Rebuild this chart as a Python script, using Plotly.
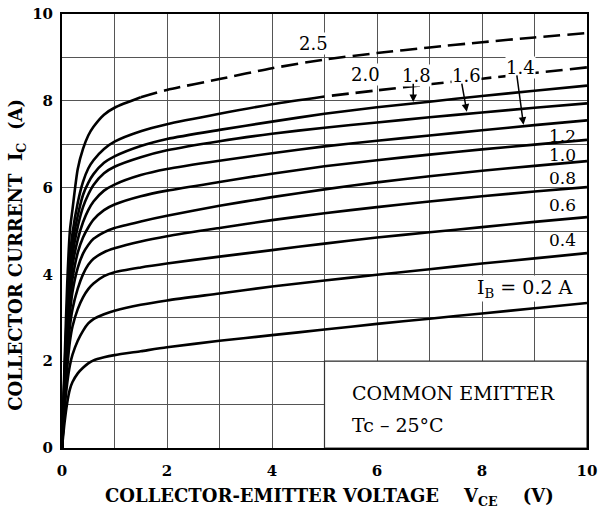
import plotly.graph_objects as go

# ---------------- data ----------------
vce = [0, 0.05, 0.1, 0.15, 0.2, 0.3, 0.4, 0.5, 0.6, 0.8, 1.0, 1.5, 2, 3, 4, 5, 6, 7, 8, 9, 10]

ib_values = ["0.2", "0.4", "0.6", "0.8", "1.0", "1.2", "1.4", "1.6", "1.8", "2.0", "2.5"]

ic_02 = [0, 0.6, 1.05, 1.35, 1.52, 1.72, 1.85, 1.95, 2.02, 2.09, 2.14, 2.23, 2.32, 2.47, 2.6, 2.73, 2.86, 2.98, 3.1, 3.22, 3.34]
ic_04 = [0, 0.9, 1.5, 1.9, 2.15, 2.47, 2.7, 2.87, 2.97, 3.08, 3.16, 3.3, 3.4, 3.56, 3.72, 3.86, 3.99, 4.12, 4.25, 4.37, 4.49]
ic_06 = [0, 1.05, 1.85, 2.45, 2.8, 3.2, 3.47, 3.66, 3.79, 3.96, 4.05, 4.16, 4.25, 4.41, 4.56, 4.71, 4.85, 4.97, 5.09, 5.21, 5.32]
ic_08 = [0, 1.2, 2.1, 2.8, 3.2, 3.67, 4.0, 4.22, 4.36, 4.51, 4.6, 4.76, 4.88, 5.07, 5.25, 5.41, 5.55, 5.68, 5.8, 5.91, 6.01]
ic_10 = [0, 1.3, 2.3, 3.1, 3.6, 4.15, 4.48, 4.68, 4.82, 4.97, 5.07, 5.22, 5.35, 5.58, 5.78, 5.96, 6.12, 6.26, 6.39, 6.5, 6.61]
ic_12 = [0, 1.4, 2.5, 3.35, 3.9, 4.5, 4.85, 5.08, 5.26, 5.48, 5.61, 5.8, 5.93, 6.13, 6.32, 6.49, 6.63, 6.76, 6.88, 6.99, 7.1]
ic_14 = [0, 1.5, 2.7, 3.6, 4.2, 4.8, 5.2, 5.48, 5.68, 5.93, 6.07, 6.29, 6.43, 6.62, 6.79, 6.95, 7.08, 7.2, 7.32, 7.44, 7.55]
ic_16 = [0, 1.6, 2.9, 3.85, 4.45, 5.1, 5.55, 5.84, 6.06, 6.33, 6.48, 6.7, 6.86, 7.07, 7.24, 7.38, 7.5, 7.62, 7.73, 7.84, 7.94]
ic_18 = [0, 1.7, 3.1, 4.1, 4.7, 5.35, 5.83, 6.11, 6.31, 6.57, 6.72, 6.96, 7.12, 7.33, 7.52, 7.7, 7.85, 7.98, 8.11, 8.23, 8.35]
ic_20 = [0, 1.8, 3.3, 4.4, 4.95, 5.65, 6.13, 6.44, 6.63, 6.89, 7.06, 7.3, 7.46, 7.7, 7.92, 8.1, 8.24, 8.38, 8.51, 8.64, 8.77]
ic_25 = [0, 2.0, 3.8, 5.0, 5.5, 6.43, 6.89, 7.2, 7.4, 7.68, 7.84, 8.08, 8.25, 8.5, 8.75, 8.95, 9.1, 9.23, 9.35, 9.46, 9.56]

curves = [ic_02, ic_04, ic_06, ic_08, ic_10, ic_12, ic_14, ic_16, ic_18, ic_20, ic_25]
# voltage beyond which each curve is drawn dashed
dash_from = {"2.0": 5, "2.5": 1.5}

x_ticks = [0, 2, 4, 6, 8, 10]
y_ticks = [0, 2, 4, 6, 8, 10]

# ---------------- figure ----------------
FONT = "DejaVu Serif"
fig = go.Figure()
LINE = dict(color="black", width=2.6, shape="spline", smoothing=0.7)

for lab, ic in zip(ib_values, curves):
    cut = dash_from.get(lab)
    if cut is None:
        fig.add_trace(go.Scatter(x=vce, y=ic, mode="lines", line=LINE,
                                 hoverinfo="skip", showlegend=False))
    else:
        xs = [v for v in vce if v <= cut]
        ys = ic[:len(xs)]
        xd = [v for v in vce if v >= cut]
        yd = ic[len(vce) - len(xd):]
        fig.add_trace(go.Scatter(x=xs, y=ys, mode="lines", line=LINE,
                                 hoverinfo="skip", showlegend=False))
        pattern = "17px,7px" if lab == "2.5" else "0px,7px,17px,0px"
        fig.add_trace(go.Scatter(x=xd, y=yd, mode="lines", line=dict(LINE, dash=pattern),
                                 hoverinfo="skip", showlegend=False))

# white box for the condition note
fig.add_shape(type="rect", xref="x", yref="y", x0=5, x1=10, y0=0, y1=2,
              fillcolor="white", line=dict(color="#333", width=1.2), layer="between")

lfont = dict(family=FONT, size=18, color="black")
rfont = dict(family=FONT, size=17, color="black")
ann = []
for txt, x, y in [("2.5", 4.79, 9.31), ("2.0", 5.79, 8.6), ("1.8", 6.76, 8.59),
                  ("1.6", 7.71, 8.59), ("1.4", 8.74, 8.77)]:
    ann.append(dict(x=x, y=y, xref="x", yref="y", text=txt, showarrow=False,
                    font=lfont, bgcolor="white", borderpad=0))
for txt, x, y in [("1.2", 9.53, 7.2), ("1.0", 9.53, 6.74), ("0.8", 9.53, 6.22),
                  ("0.6", 9.53, 5.6), ("0.4", 9.53, 4.79)]:
    ann.append(dict(x=x, y=y, xref="x", yref="y", text=txt, showarrow=False, font=rfont))
ann.append(dict(x=8.82, y=3.68, xref="x", yref="y", text="I<sub>B</sub> = 0.2 A",
                showarrow=False, font=dict(family=FONT, size=19, color="black"),
                bgcolor="white", borderpad=0))
for (ax_, ay_, hx, hy) in [(6.69, 8.43, 6.69, 7.97), (7.61, 8.43, 7.71, 7.75), (8.66, 8.62, 8.79, 7.45)]:
    ann.append(dict(x=hx, y=hy, ax=ax_, ay=ay_, xref="x", yref="y", axref="x", ayref="y",
                    text="", showarrow=True, arrowhead=2, arrowsize=1, arrowwidth=1.5,
                    arrowcolor="black", standoff=0, startstandoff=0))
ann.append(dict(x=5.49, y=1.27, xref="x", yref="y", text="COMMON EMITTER",
                xanchor="left", yanchor="middle",
                showarrow=False, font=dict(family=FONT, size=19, color="black")))
ann.append(dict(x=5.49, y=0.53, xref="x", yref="y", text="Tc – 25°C",
                xanchor="left", yanchor="middle",
                showarrow=False, font=dict(family=FONT, size=19, color="black")))
ann.append(dict(x=0.509, y=-0.114, xref="paper", yref="paper", xanchor="center", yanchor="middle",
                text="<b>COLLECTOR-EMITTER VOLTAGE&nbsp;&nbsp;&nbsp;&nbsp;V<sub>CE</sub>&nbsp;&nbsp;&nbsp;&nbsp;(V)</b>",
                showarrow=False, font=dict(family=FONT, size=18, color="black")))
ann.append(dict(x=-0.085, y=0.446, xref="paper", yref="paper", xanchor="center", yanchor="middle",
                text="<b>COLLECTOR CURRENT&nbsp;&nbsp;I<sub>C</sub>&nbsp;&nbsp;(A)</b>", textangle=-90,
                showarrow=False, font=dict(family=FONT, size=18, color="black")))

grid = "#555"
axis_common = dict(range=[0, 10], showgrid=True, gridcolor=grid, gridwidth=1,
                   minor=dict(dtick=1, showgrid=True, gridcolor=grid, gridwidth=1),
                   showline=True, linecolor="black", linewidth=2, mirror=True,
                   zeroline=False, ticks="", fixedrange=True, automargin=False,
                   tickfont=dict(family=FONT, size=15, color="black", weight="bold"))
fig.update_layout(
    width=599, height=514,
    margin=dict(l=62, r=12, t=14, b=66, autoexpand=False),
    paper_bgcolor="white", plot_bgcolor="white",
    showlegend=False,
    annotations=ann,
    xaxis=dict(axis_common, tickvals=x_ticks, ticktext=[str(v) for v in x_ticks],
               ticklabelstandoff=8),
    yaxis=dict(axis_common, tickvals=y_ticks, ticktext=[str(v) for v in y_ticks],
               ticklabelstandoff=4),
)

fig.write_html("out.html", config={"displayModeBar": False},
               post_script="document.body.style.margin='0';document.body.style.overflow='hidden';")
